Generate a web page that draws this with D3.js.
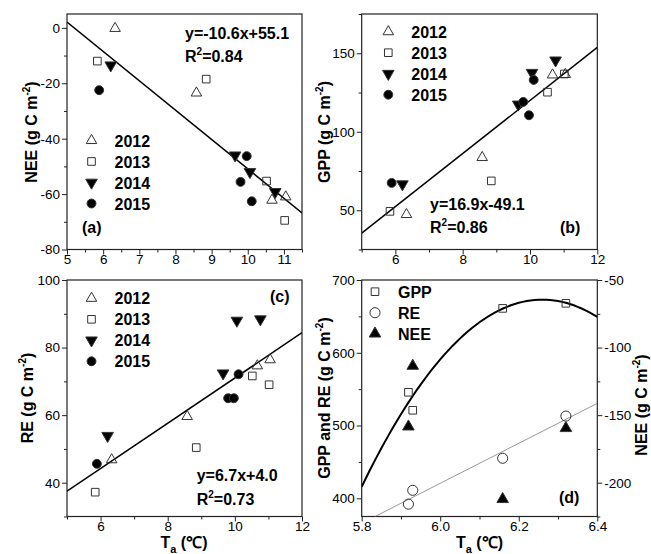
<!DOCTYPE html>
<html lang="en">
<head>
<meta charset="utf-8">
<title>Ta vs NEE, GPP and RE</title>
<script src="https://cdnjs.cloudflare.com/ajax/libs/d3/7.8.5/d3.min.js"></script>
<style>
  body { margin: 0; background: #fff; }
  svg { font-family: 'Liberation Sans', Arial, sans-serif; }
  .tick text { font-size: 13.5px; fill: #000; }
  .tick line { stroke: #222; }
  .domain { display: none; }
  .lbl { font-size: 16px; font-weight: bold; fill: #000; }
</style>
</head>
<body>
<svg id="canvas" width="651" height="554"></svg>
<script>

// air temperature (Ta, ℃) of each point, per year
var years = ['2012', '2013', '2014', '2015'];
var ta_2012 = [6.33, 8.58, 10.67, 11.05];
var ta_2013 = [5.84, 8.85, 10.52, 11.02];
var ta_2014 = [6.21, 9.65, 10.06, 10.76];
var ta_2015 = [5.89, 9.80, 9.97, 10.11];

// NEE (g C m-2)
var nee_2012 = [-0.2, -23.5, -62.2, -61.0];
var nee_2013 = [-12.0, -18.5, -55.3, -69.5];
var nee_2014 = [-13.5, -46.0, -52.0, -59.2];
var nee_2015 = [-22.5, -55.6, -46.3, -62.6];

// GPP (g C m-2)
var gpp_2012 = [47.3, 83.6, 136.2, 136.5];
var gpp_2013 = [49.3, 68.7, 125.2, 136.8];
var gpp_2014 = [66.6, 117.4, 137.6, 145.5];
var gpp_2015 = [67.4, 119.0, 110.5, 133.0];

// RE (g C m-2)
var re_2012 = [46.8, 59.6, 74.6, 76.4];
var re_2013 = [37.2, 50.4, 71.6, 69.0];
var re_2014 = [53.9, 72.4, 88.0, 88.4];
var re_2015 = [45.6, 65.0, 65.0, 72.1];

// panel (d): season totals
var ta_sum  = [5.919, 5.930, 6.159, 6.320];
var gpp_sum = [545.7, 521.0, 661.0, 668.0];
var re_sum  = [392.0, 411.0, 455.0, 513.0];
var nee_sum = [-158.5, -113.6, -212.2, -159.7];

// fits: [slope, intercept]
var fit_nee = [-10.6, 55.1], fit_gpp = [16.9, -49.1], fit_re = [6.7, 4.0];
var fit_re_sum = [274.7, -1227.6];
var fit_gpp_sum = [-1215, 6.26, 673];   // a*(x-h)^2 + k

// tick values
var x_ticks_a = [5, 6, 7, 8, 9, 10, 11], x_minor_a = [5.5, 6.5, 7.5, 8.5, 9.5, 10.5, 11.5];
var x_ticks_bc = [6, 8, 10, 12], x_minor_bc = [5, 7, 9, 11];
var x_ticks_d = [5.8, 6.0, 6.2, 6.4], x_minor_d = [5.9, 6.1, 6.3];
var y_ticks_a = [-80, -60, -40, -20, 0], y_minor_a = [-70, -50, -30, -10];
var y_ticks_b = [50, 100, 150], y_minor_b = [25, 75, 125, 175];
var y_ticks_c = [40, 60, 80, 100], y_minor_c = [30, 50, 70, 90];
var y_ticks_d = [400, 500, 600, 700], y_minor_d = [450, 550, 650];
var y2_ticks_d = [-200, -150, -100, -50], y2_minor_d = [-225, -175, -125, -75];

var svg = d3.select('#canvas');
var clip_count = 0;

// marker kinds: shape + filled or open
var kinds = {
  tri:       { shape: d3.symbol().type(d3.symbolTriangle).size(48)(), fill: false, rot: false },
  down:      { shape: d3.symbol().type(d3.symbolTriangle).size(58)(), fill: true,  rot: true },
  sq:        { shape: d3.symbol().type(d3.symbolSquare).size(58)(),   fill: false, rot: false },
  circ:      { shape: d3.symbol().type(d3.symbolCircle).size(62)(),   fill: true,  rot: false },
  circ_open: { shape: d3.symbol().type(d3.symbolCircle).size(80)(),   fill: false, rot: false },
  fill_tri:  { shape: d3.symbol().type(d3.symbolTriangle).size(58)(), fill: true,  rot: false }
};
var year_kind = ['tri', 'sq', 'down', 'circ'];

/*******************************************************************************/
// helpers

function panel(box, xd, yd){
  var p = { box: box };
  p.x = d3.scaleLinear().domain(xd).range([box.left, box.right]);
  p.y = d3.scaleLinear().domain(yd).range([box.bottom, box.top]);
  p.g = svg.append('g');
  var id = 'clip' + (clip_count++);
  svg.append('clipPath').attr('id', id).append('rect')
    .attr('x', box.left).attr('y', box.top)
    .attr('width', box.right - box.left).attr('height', box.bottom - box.top);
  p.clip = 'url(#' + id + ')';
  return p;
}

var fmt = function(d){ return String(d); };

function axes(p, xt, xm, yt, ym, xf){
  var b = p.box;
  var bx = p.g.append('g').attr('transform', 'translate(0,' + b.bottom + ')');
  bx.call(d3.axisBottom(p.x).tickValues(xt).tickSize(5).tickSizeOuter(0).tickPadding(0).tickFormat(xf || fmt));
  bx.selectAll('text').attr('y', 5).attr('dy', '0.71em');
  p.g.append('g').attr('transform', 'translate(0,' + b.bottom + ')')
    .call(d3.axisBottom(p.x).tickValues(xm).tickSize(3).tickSizeOuter(0).tickFormat(''));

  p.g.append('g').attr('transform', 'translate(' + b.left + ',0)')
    .call(d3.axisLeft(p.y).tickValues(yt).tickSize(5).tickSizeOuter(0).tickPadding(2).tickFormat(fmt));
  p.g.append('g').attr('transform', 'translate(' + b.left + ',0)')
    .call(d3.axisLeft(p.y).tickValues(ym).tickSize(3).tickSizeOuter(0).tickFormat(''));

  p.g.append('rect').attr('x', b.left).attr('y', b.top)
    .attr('width', b.right - b.left).attr('height', b.bottom - b.top)
    .style('fill', 'none').style('stroke', '#222').style('stroke-width', 1.2);
}

function symbolAt(g, kind, cx, cy){
  var k = kinds[kind];
  g.append('path').attr('d', k.shape)
    .attr('transform', 'translate(' + cx + ',' + cy + ')' + (k.rot ? ' rotate(180)' : ''))
    .style('fill', k.fill ? '#000' : 'none')
    .style('stroke', '#333').style('stroke-width', 1);
}

function markers(p, xs, ys, kind, y){
  y = y || p.y;
  var g = p.g.append('g');
  d3.zip(xs, ys).forEach(function(d){ symbolAt(g, kind, p.x(d[0]), y(d[1])); });
}

function fitLine(p, fit){
  var xd = p.x.domain();
  p.g.append('line').attr('clip-path', p.clip)
    .attr('x1', p.x(xd[0])).attr('y1', p.y(fit[0]*xd[0] + fit[1]))
    .attr('x2', p.x(xd[1])).attr('y2', p.y(fit[0]*xd[1] + fit[1]))
    .style('stroke', '#000').style('stroke-width', 1.5);
}

function legend(p, labels, ks, x0, y0, step){
  labels.forEach(function(t, i){
    var cy = y0 + i*step;
    symbolAt(p.g, ks[i], x0, cy);
    p.g.append('text').attr('class', 'lbl').attr('x', x0 + 23).attr('y', cy + 6).text(t);
  });
}

function eqText(x, y, eq, r2){
  svg.append('text').attr('class', 'lbl').attr('x', x).attr('y', y).text(eq);
  var t = svg.append('text').attr('class', 'lbl').attr('x', x).attr('y', y + 23.5).text('R');
  t.append('tspan').attr('dy', -7).style('font-size', '10px').text('2');
  t.append('tspan').attr('dy', 7).text('=' + r2);
}

function yTitle(x, y, name){
  var t = svg.append('text').attr('class', 'lbl')
    .attr('transform', 'translate(' + x + ',' + y + ') rotate(-90)')
    .style('text-anchor', 'middle').text(name + ' (g C m');
  t.append('tspan').attr('dy', -7).style('font-size', '10px').text('-2');
  t.append('tspan').attr('dy', 7).text(')');
}

function xTitle(x, y){
  var t = svg.append('text').attr('class', 'lbl').attr('x', x).attr('y', y)
    .style('text-anchor', 'middle').text('T');
  t.append('tspan').attr('dy', 5).style('font-size', '11px').text('a');
  t.append('tspan').attr('dy', -5).text(' (\u2103)');
}

var ta_all = [ta_2012, ta_2013, ta_2014, ta_2015];

function yearSeries(p, ys){
  ta_all.forEach(function(xv, i){ markers(p, xv, ys[i], year_kind[i]); });
}

/*******************************************************************************/
// (a) NEE

var pa = panel({ left: 67, right: 302, top: 14, bottom: 249.5 }, [5, 11.5], [-80, 5]);
axes(pa, x_ticks_a, x_minor_a, y_ticks_a, y_minor_a);
fitLine(pa, fit_nee);
yearSeries(pa, [nee_2012, nee_2013, nee_2014, nee_2015]);
legend(pa, years, year_kind, 91.5, 140.5, 21);
eqText(185, 38.5, 'y=-10.6x+55.1', '0.84');
svg.append('text').attr('class', 'lbl').attr('x', 82).attr('y', 233).text('(a)');
yTitle(37, 132, 'NEE');

/*******************************************************************************/
// (b) GPP

var pb = panel({ left: 361.7, right: 597.3, top: 14, bottom: 249.5 }, [5, 12], [25, 175]);
axes(pb, x_ticks_bc, x_minor_bc, y_ticks_b, y_minor_b);
fitLine(pb, fit_gpp);
yearSeries(pb, [gpp_2012, gpp_2013, gpp_2014, gpp_2015]);
legend(pb, years, year_kind, 388.3, 31.7, 21);
eqText(430, 209.5, 'y=16.9x-49.1', '0.86');
svg.append('text').attr('class', 'lbl').attr('x', 560).attr('y', 233).text('(b)');
yTitle(330, 132, 'GPP');

/*******************************************************************************/
// (c) RE

var pc = panel({ left: 67, right: 302, top: 280, bottom: 516.5 }, [5, 12], [30, 100]);
axes(pc, x_ticks_bc, x_minor_bc, y_ticks_c, y_minor_c);
fitLine(pc, fit_re);
yearSeries(pc, [re_2012, re_2013, re_2014, re_2015]);
legend(pc, years, year_kind, 91.5, 298.3, 21);
eqText(196.7, 481, 'y=6.7x+4.0', '0.73');
svg.append('text').attr('class', 'lbl').attr('x', 270).attr('y', 302).text('(c)');
yTitle(33, 398, 'RE');
xTitle(184, 548);

/*******************************************************************************/
// (d) season totals, NEE on right axis

var pd = panel({ left: 361.7, right: 597.3, top: 280, bottom: 516.5 }, [5.8, 6.4], [375, 700]);
var y2 = d3.scaleLinear().domain([-225, -50]).range([516.5, 280]);
axes(pd, x_ticks_d, x_minor_d, y_ticks_d, y_minor_d, function(d){ return d.toFixed(1); });
pd.g.append('g').attr('transform', 'translate(' + pd.box.right + ',0)')
  .call(d3.axisRight(y2).tickValues(y2_ticks_d).tickSize(5).tickSizeOuter(0).tickPadding(2).tickFormat(fmt));
pd.g.append('g').attr('transform', 'translate(' + pd.box.right + ',0)')
  .call(d3.axisRight(y2).tickValues(y2_minor_d).tickSize(3).tickSizeOuter(0).tickFormat(''));

var curve_x = d3.range(5.8, 6.4001, 0.01);
pd.g.append('path').attr('clip-path', pd.clip)
  .attr('d', d3.line()
    .x(function(d){ return pd.x(d); })
    .y(function(d){ return pd.y(fit_gpp_sum[0]*Math.pow(d - fit_gpp_sum[1], 2) + fit_gpp_sum[2]); })(curve_x))
  .style('fill', 'none').style('stroke', '#000').style('stroke-width', 2);

var re_x0 = (375 - fit_re_sum[1]) / fit_re_sum[0];
pd.g.append('line').attr('clip-path', pd.clip)
  .attr('x1', pd.x(re_x0)).attr('y1', pd.y(fit_re_sum[0]*re_x0 + fit_re_sum[1]))
  .attr('x2', pd.x(6.4)).attr('y2', pd.y(fit_re_sum[0]*6.4 + fit_re_sum[1]))
  .style('stroke', '#999').style('stroke-width', 1);

markers(pd, ta_sum, gpp_sum, 'sq');
markers(pd, ta_sum, re_sum, 'circ_open');
markers(pd, ta_sum, nee_sum, 'fill_tri', y2);

legend(pd, ['GPP', 'RE', 'NEE'], ['sq', 'circ_open', 'fill_tri'], 375, 291.7, 21);
svg.append('text').attr('class', 'lbl').attr('x', 559).attr('y', 503).text('(d)');
yTitle(330, 398, 'GPP and RE');
yTitle(647, 405, 'NEE');
xTitle(479.5, 548);

</script>
</body>
</html>
